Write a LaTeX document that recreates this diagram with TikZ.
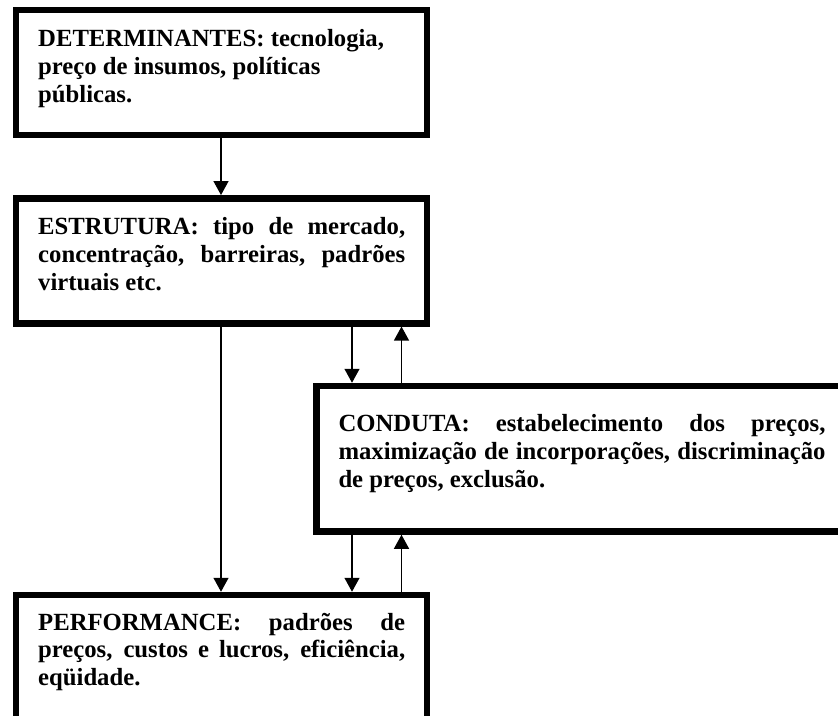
\documentclass[tikz,border=0pt]{standalone}
\usepackage{fontspec}
\setmainfont{Liberation Serif}
\usetikzlibrary{arrows.meta}
\tikzset{
  boxnode/.style={draw, line width=6.5pt, rectangle, inner sep=0pt},
  txt/.style={inner sep=0pt, anchor=base west, font=\fontsize{24.7}{27.8}\selectfont\bfseries},
  arr/.style={line width=1.3pt, -{Triangle[width=15pt,length=14pt]}}
}
\newcommand{\jline}[1]{\makebox[\linewidth][s]{#1}}
\begin{document}
\begin{tikzpicture}[x=1pt,y=-1pt]
\useasboundingbox (0,0) rectangle (838,715);
\clip (0,0) rectangle (838,715);
\fill[white] (0,0) rectangle (838,715);
% boxes
\node[boxnode, minimum width=411pt, minimum height=125pt] (b1) at (221.5,72.5) {};
\node[boxnode, minimum width=411pt, minimum height=125pt] (b2) at (221.5,260.8) {};
\node[boxnode, minimum width=533.3pt, minimum height=145.5pt] (b3) at (583.35,458.75) {};
\node[boxnode, minimum width=411pt, minimum height=135pt] (b4) at (221.5,662.5) {};
% texts
\node[txt] (t1) at (38,46.7) {\parbox[t]{367pt}{\raggedright
DETERMINANTES: tecnologia,\\
preço de insumos, políticas\\
públicas.}};
\node[txt] (t2) at (38,234.5) {\parbox[t]{367pt}{%
\jline{ESTRUTURA: tipo de mercado,}\\
\jline{concentração, barreiras, padrões}\\
virtuais etc.}};
\node[txt] (t3) at (338.3,431.7) {\parbox[t]{487pt}{%
\jline{CONDUTA: estabelecimento dos preços,}\\
\jline{maximização de incorporações, discriminação}\\
de preços, exclusão.}};
\node[txt] (t4) at (38,630) {\parbox[t]{367pt}{%
\jline{PERFORMANCE: padrões de}\\
\jline{preços, custos e lucros, eficiência,}\\
eqüidade.}};
% connectors
\coordinate (xm) at (221,0);
\coordinate (xa) at (352,0);
\coordinate (xb) at (401.5,0);
\draw[arr] (b1.south -| xm) -- (b2.north -| xm);
\draw[arr] (b2.south -| xm) -- (b4.north -| xm);
\draw[arr] (b2.south -| xa) -- (b3.north -| xa);
\draw[arr] (b3.north -| xb) -- (b2.south -| xb);
\draw[arr] (b3.south -| xa) -- (b4.north -| xa);
\draw[arr] (b4.north -| xb) -- (b3.south -| xb);
\end{tikzpicture}
\end{document}
